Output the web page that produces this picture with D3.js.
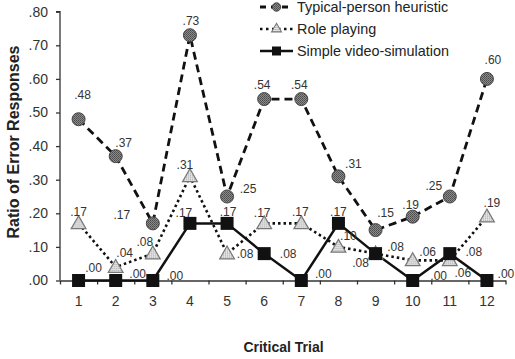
<!DOCTYPE html>
<html><head><meta charset="utf-8">
<script src="https://cdn.jsdelivr.net/npm/d3@7"></script>
<style>html,body{margin:0;padding:0;background:#fff;}svg{display:block;font-family:Arial,"Liberation Sans",sans-serif;}</style>
</head><body>
<script>
// ---- data ----
const trials = ["1","2","3","4","5","6","7","8","9","10","11","12"];
const typical = [0.48,0.37,0.17,0.73,0.25,0.54,0.54,0.31,0.15,0.19,0.25,0.60];
const rolePlaying = [0.17,0.04,0.08,0.31,0.08,0.17,0.17,0.10,0.08,0.06,0.06,0.19];
const videoSim = [0.00,0.00,0.00,0.17,0.17,0.08,0.00,0.17,0.08,0.00,0.08,0.00];
const seriesNames = ["Typical-person heuristic","Role playing","Simple video-simulation"];
const yTicks = [0,0.1,0.2,0.3,0.4,0.5,0.6,0.7,0.8];
const yTickLabels = [".00",".10",".20",".30",".40",".50",".60",".70",".80"];
const xTitle = "Critical Trial";
const yTitle = "Ratio of Error Responses";

// ---- label placement offsets (styling) ----
const typicalLabelOff = [[4,-24],[8,-13],[-31,-8],[1,-14],[21,-8],[-2,-14],[-2,-14],[15,-12],[10,-17],[-2,-12],[-16,-11],[6,-19]];
const roleLabelOff = [[0,-11],[9,-14],[-8,-12],[-5,-11],[18,0],[-2,-10],[-1,-11],[10,-11],[-15,9],[15,-8],[13,13],[5,-14]];
const videoLabelOff = [[15,-13],[22,-7],[22,-5],[-6,-10],[1,-11],[24,0],[22,-7],[0,-11],[20,-7],[26,-5],[24,-2],[19,-7]];

const W = 515, H = 359;
const svg = d3.select("body").append("svg").attr("width", W).attr("height", H);

const defs = svg.append("defs");
const p1 = defs.append("pattern").attr("id","dotDark").attr("patternUnits","userSpaceOnUse").attr("width",2).attr("height",2);
p1.append("rect").attr("width",2).attr("height",2).attr("fill","#8a8a8a");
p1.append("rect").attr("width",1).attr("height",1).attr("fill","#4a4a4a");
p1.append("rect").attr("x",1).attr("y",1).attr("width",1).attr("height",1).attr("fill","#5a5a5a");
const p2 = defs.append("pattern").attr("id","dotLight").attr("patternUnits","userSpaceOnUse").attr("width",2).attr("height",2);
p2.append("rect").attr("width",2).attr("height",2).attr("fill","#e2e2e2");
p2.append("rect").attr("width",1).attr("height",1).attr("fill","#a8a8a8");

const mLeft = 60, mRight = 505.5, mTop = 11.7, mBottom = 280.5;
const x = d3.scaleBand().domain(trials).range([mLeft, mRight]).padding(0);
const xB = d3.scaleLinear().domain([0, trials.length]).range([mLeft, mRight]);
const y = d3.scaleLinear().domain([0, 0.8]).range([mBottom, mTop]);
const cx = (d, i) => x(trials[i]) + x.bandwidth() / 2;
const fmt = v => d3.format(".2f")(v).replace(/^0/, "");

// axes
const yAxis = svg.append("g").attr("transform", `translate(${mLeft},0)`)
  .call(d3.axisLeft(y).tickValues(yTicks).tickFormat((d,i)=>yTickLabels[i]).tickSize(4).tickPadding(8));
yAxis.select(".domain").attr("d", `M-4,${y(0.8)}H0V${mBottom}`).attr("stroke","#333").attr("stroke-width",1.3);
yAxis.selectAll(".tick line").attr("stroke","#333").attr("stroke-width",1.3);
yAxis.selectAll("text").attr("font-size","14px").attr("fill","#333").attr("font-family","Arial, 'Liberation Sans', sans-serif");

const xTicksG = svg.append("g").attr("transform", `translate(0,${mBottom})`)
  .call(d3.axisBottom(xB).tickValues(d3.range(0, trials.length + 1)).tickFormat("").tickSize(4).tickSizeOuter(0));
xTicksG.select(".domain").attr("stroke","#333").attr("stroke-width",1.3);
xTicksG.selectAll(".tick line").attr("stroke","#333").attr("stroke-width",1.3);
const xLab = svg.append("g").attr("transform", `translate(0,${mBottom})`)
  .call(d3.axisBottom(x).tickSize(0).tickPadding(16));
xLab.select(".domain").remove();
xLab.selectAll("text").attr("font-size","14px").attr("fill","#333").attr("font-family","Arial, 'Liberation Sans', sans-serif");

// titles
svg.append("text").attr("x", 283.5).attr("y", 352).attr("text-anchor","middle")
  .attr("font-size","14px").attr("font-weight","bold").attr("fill","#222").text(xTitle);
svg.append("text").attr("transform", `translate(19,142) rotate(-90)`).attr("text-anchor","middle")
  .attr("font-size","16px").attr("font-weight","bold").attr("fill","#222").text(yTitle);

// lines
const line = d3.line().x((d,i)=>cx(d,i)).y(d=>y(d));
svg.append("path").datum(rolePlaying).attr("d", line).attr("fill","none").attr("stroke","#111")
  .attr("stroke-width",2.6).attr("stroke-dasharray","2.5,3");
svg.append("path").datum(videoSim).attr("d", line).attr("fill","none").attr("stroke","#111")
  .attr("stroke-width",2.5);
svg.append("path").datum(typical).attr("d", line).attr("fill","none").attr("stroke","#111")
  .attr("stroke-width",2.8).attr("stroke-dasharray","8,5");

// markers
const tri = d3.symbol().type(d3.symbolTriangle).size(95);
svg.append("g").selectAll("path").data(rolePlaying).join("path")
  .attr("d", tri).attr("transform",(d,i)=>`translate(${cx(d,i)},${y(d)+1})`)
  .attr("fill","url(#dotLight)").attr("stroke","#777").attr("stroke-width",1.2);
svg.append("g").selectAll("rect").data(videoSim).join("rect")
  .attr("x",(d,i)=>cx(d,i)-6.5).attr("y",d=>y(d)-6.5).attr("width",13).attr("height",13)
  .attr("fill","#111");
svg.append("g").selectAll("circle").data(typical).join("circle")
  .attr("cx",(d,i)=>cx(d,i)).attr("cy",d=>y(d)).attr("r",6.5)
  .attr("fill","url(#dotDark)").attr("stroke","#444").attr("stroke-width",1);

// data labels
function labels(vals, off){
  svg.append("g").selectAll("text").data(vals).join("text")
    .attr("x",(d,i)=>cx(d,i)+off[i][0]).attr("y",(d,i)=>y(d)+off[i][1])
    .attr("text-anchor","middle").attr("dominant-baseline","central")
    .attr("font-size","12px").attr("fill","#333").text(d=>fmt(d));
}
labels(typical, typicalLabelOff);
labels(rolePlaying, roleLabelOff);
labels(videoSim, videoLabelOff);

// legend
const leg = svg.append("g");
const rowsY = [7, 29, 51];
const lx1 = 260, lx2 = 293, lmx = 276.5;
leg.append("line").attr("x1",lx1).attr("x2",lx2).attr("y1",rowsY[0]).attr("y2",rowsY[0])
  .attr("stroke","#111").attr("stroke-width",2.8).attr("stroke-dasharray","6,5").attr("stroke-dashoffset",0);
leg.append("circle").attr("cx",lmx).attr("cy",rowsY[0]).attr("r",4.2).attr("fill","url(#dotDark)").attr("stroke","#444");
leg.append("line").attr("x1",lx1).attr("x2",lx2).attr("y1",rowsY[1]).attr("y2",rowsY[1])
  .attr("stroke","#111").attr("stroke-width",2.6).attr("stroke-dasharray","2.5,3.5");
leg.append("path").attr("d", d3.symbol().type(d3.symbolTriangle).size(42)).attr("transform",`translate(${lmx},${rowsY[1]})`)
  .attr("fill","url(#dotLight)").attr("stroke","#777").attr("stroke-width",1.1);
leg.append("line").attr("x1",lx1).attr("x2",lx2).attr("y1",rowsY[2]).attr("y2",rowsY[2])
  .attr("stroke","#111").attr("stroke-width",2.5);
leg.append("rect").attr("x",lmx-4.5).attr("y",rowsY[2]-4.5).attr("width",9).attr("height",9).attr("fill","#111");
leg.selectAll("text.lt").data(seriesNames).join("text").attr("class","lt")
  .attr("x",297).attr("y",(d,i)=>rowsY[i]).attr("dominant-baseline","central")
  .attr("font-size","14.4px").attr("fill","#222").text(d=>d);
</script>
</body></html>
